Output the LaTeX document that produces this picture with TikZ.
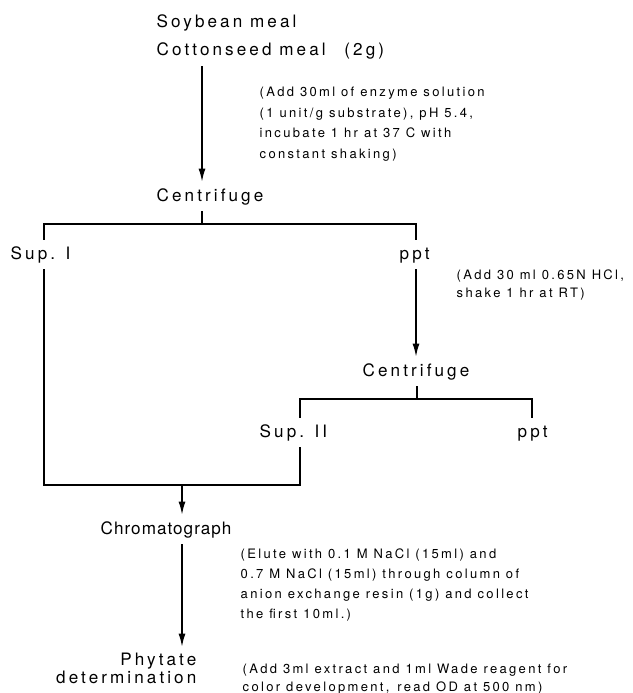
\documentclass[tikz,border=0pt]{standalone}
\usepackage{fontspec}
\setmainfont{TeX Gyre Heros}
\newfontfamily\lblfont{TeX Gyre Heros}[LetterSpace=18]
\newfontfamily\chrfont{TeX Gyre Heros}[LetterSpace=6]
\newfontfamily\notefont{TeX Gyre Heros}[LetterSpace=18]
\usetikzlibrary{arrows.meta}

\begin{document}
\begin{tikzpicture}[x=1pt,y=-1pt,line width=1.4pt]
\tikzstyle{lbl} = [anchor=base west, inner xsep=0pt, inner ysep=6pt, text height=12.7pt, text depth=3.6pt, font=\lblfont\fontsize{17.1}{20}\selectfont]
\tikzstyle{note} = [anchor=base west, inner sep=0pt, align=left, font=\notefont\fontsize{13}{20.5}\selectfont]
\tikzstyle{arr} = [-{Latex[length=13pt,width=7pt]}]
\useasboundingbox (0,0) rectangle (632,693);
\path (0,0) +(156,28) node[lbl] (soy) {Soybean meal} +(156,56) node[lbl] (cot) {Cottonseed meal\hspace{1.1em}(2g)}
  +(156,201) node[lbl] (cen1) {Centrifuge} +(10,259) node[lbl] (sup1) {Sup. I} +(399,259) node[lbl] (ppt1) {ppt}
  +(362,376) node[lbl] (cen2) {Centrifuge} +(259,437) node[lbl] (sup2) {Sup. II} +(517,437) node[lbl] (ppt2) {ppt}
  +(100,534) node[lbl,font=\chrfont\fontsize{17.1}{20}\selectfont] (chrom) {Chromatograph};
\node[anchor=base east, inner xsep=0pt, inner ysep=6pt, align=right, font=\lblfont\fontsize{17.1}{16}\selectfont] (phyt) at (197,683) {Phytate\\determination};

% notes beside the arrows (base = last line)
\node[note] (n1) at (259,158) {(Add 30ml of enzyme solution\\(1 unit/g substrate), pH 5.4,\\incubate 1 hr at 37 C with\\constant shaking)};
\node[note,font=\notefont\fontsize{13}{18}\selectfont] (n2) at (456,297) {(Add 30 ml 0.65N HCl,\\shake 1 hr at RT)};
\node[note,font=\notefont\fontsize{13}{20}\selectfont] (n3) at (240,618) {(Elute with 0.1 M NaCl (15ml) and\\0.7 M NaCl (15ml) through column of\\anion exchange resin (1g) and collect\\the first 10ml.)};
\node[note,font=\notefont\fontsize{13}{18}\selectfont] (n4) at (242,691) {(Add 3ml extract and 1ml Wade reagent for\\color development,\hspace{0.6em}read OD at 500 nm)};

\coordinate (k1) at (202,224);
\coordinate (k2) at (417,399);
\coordinate (k3) at (182,485);
\coordinate (l1) at (44,0);
\coordinate (r1) at (416,0);
\coordinate (l2) at (300,0);
\coordinate (r2) at (532,0);

\draw[arr] (cot.south -| k1) -- (cen1.north -| k1);
\draw (cen1.south -| k1) -- (k1);
\draw (sup1.north -| l1) |- (k1) -| (ppt1.north -| r1);
\draw[arr] (ppt1.south -| r1) -- (cen2.north -| r1);
\draw (cen2.south -| k2) -- (k2);
\draw (sup2.north -| l2) |- (k2) -| (ppt2.north -| r2);
\draw (sup1.south -| l1) -- (l1 |- k3) -- (l2 |- k3) -- (sup2.south -| l2);
\draw[arr] (k3) -- (chrom.north -| k3);
\draw[arr] (chrom.south -| k3) -- (phyt.north -| k3);
\end{tikzpicture}
\end{document}
